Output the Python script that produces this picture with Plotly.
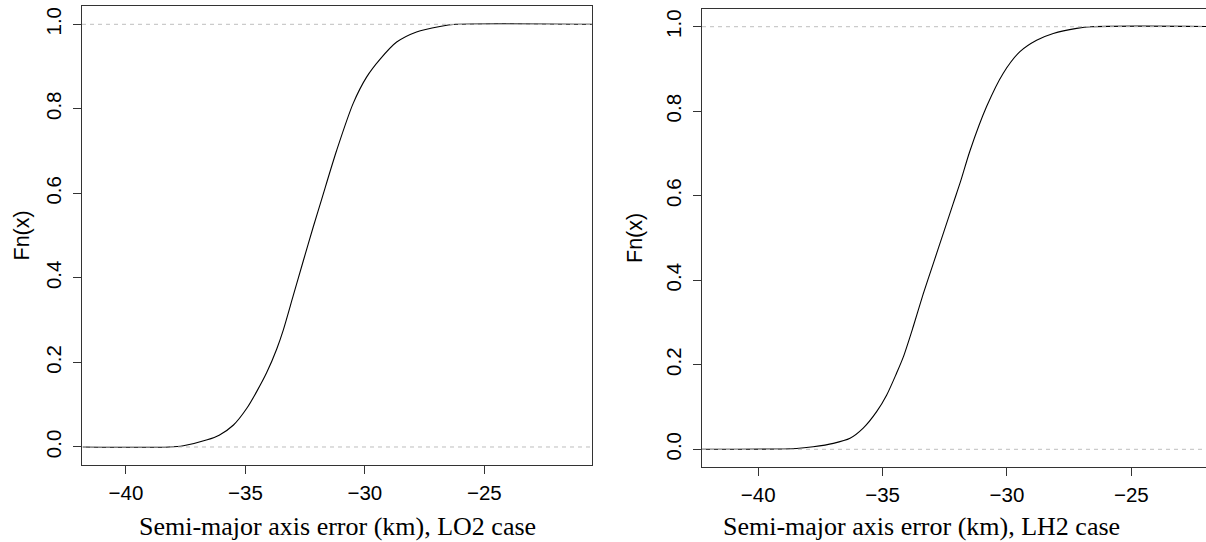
import plotly.graph_objects as go

# Left panel: LO2 case (ECDF)
lo2_x = [-41.8, -38.2, -37.6, -36.6, -36.1, -35.5, -34.95, -34.53, -34.11, -33.69,
         -33.42, -33.0, -32.58, -32.16, -31.81, -31.18, -30.49, -29.93,
         -29.37, -28.67, -27.84, -26.86, -26.2, -20.5]
lo2_f = [0.0, 0.0, 0.003, 0.017, 0.028, 0.052, 0.091, 0.131, 0.176, 0.232,
         0.276, 0.358, 0.44, 0.521, 0.586, 0.702, 0.813, 0.875,
         0.917, 0.958, 0.982, 0.995, 1.0, 1.0]

# Right panel: LH2 case
lh2_x = [-42.3, -38.46, -37.79, -36.98, -36.31, -35.78, -35.24, -34.84, -34.44,
         -34.17, -33.77, -33.37, -32.96, -32.56, -32.16, -31.86, -31.49, -30.82,
         -30.15, -29.48, -28.81, -28.14, -27.2, -26.6, -20.5]
lh2_f = [0.0, 0.002, 0.006, 0.014, 0.026, 0.05, 0.089, 0.128, 0.18,
         0.218, 0.29, 0.367, 0.44, 0.511, 0.582, 0.635, 0.706, 0.811,
         0.89, 0.941, 0.968, 0.984, 0.996, 1.0, 1.0]

x_ticks = [-40, -35, -30, -25]
y_ticks = [0.0, 0.2, 0.4, 0.6, 0.8, 1.0]
x_titles = ["Semi-major axis error (km), LO2 case", "Semi-major axis error (km), LH2 case"]
y_title = "Fn(x)"

W, H = 1206, 542
fig = go.Figure()
fig.add_trace(go.Scatter(x=lo2_x, y=lo2_f, mode="lines",
                         line=dict(color="black", width=1.1, shape="spline", smoothing=0.8),
                         xaxis="x", yaxis="y", showlegend=False, hoverinfo="skip"))
fig.add_trace(go.Scatter(x=lh2_x, y=lh2_f, mode="lines",
                         line=dict(color="black", width=1.1, shape="spline", smoothing=0.8),
                         xaxis="x2", yaxis="y2", showlegend=False, hoverinfo="skip"))

tickfont = dict(family="Liberation Sans, Arial, sans-serif", size=20.5, color="black")
common_x = dict(tickvals=x_ticks, ticks="outside", ticklen=8, tickcolor="#333", tickwidth=1,
                showline=True, linecolor="#333", linewidth=1, showgrid=False, zeroline=False,
                tickfont=tickfont, ticklabelstandoff=1)
common_y = dict(tickvals=y_ticks, tickformat=".1f", ticks="outside", ticklen=8, tickcolor="#333",
                tickwidth=1, showline=True, linecolor="#333", linewidth=1, showgrid=False,
                zeroline=False, tickfont=tickfont, tickangle=-90, ticklabelstandoff=4)

fig.update_layout(
    width=W, height=H, autosize=False,
    margin=dict(l=0, r=0, t=0, b=0),
    paper_bgcolor="white", plot_bgcolor="white",
    xaxis=dict(domain=[82 / W, 592 / W], range=[-41.841, -20.494], mirror=True, anchor="y", **common_x),
    yaxis=dict(domain=[1 - 465 / H, 1 - 6 / H], range=[-0.0426, 1.0433], mirror=True, anchor="x", **common_y),
    xaxis2=dict(domain=[702 / W, 1.0], range=[-42.26, -22.0], mirror=True, anchor="y2", **common_x),
    yaxis2=dict(domain=[1 - 467.3 / H, 1 - 9 / H], range=[-0.0426, 1.0419], mirror=False, anchor="x2", **common_y),
)

# reference dashed lines at 0 and 1 (drawn above the curves)
for xr, yr in (("x domain", "y"), ("x2 domain", "y2")):
    for lv in (0, 1):
        fig.add_shape(type="line", xref=xr, yref=yr, x0=0, x1=1, y0=lv, y1=lv,
                      line=dict(color="#bebebe", width=1, dash="4px,4px"), layer="above")

# axis titles
serif = dict(family="Liberation Serif, Times New Roman, serif", size=26, color="black")
fig.add_annotation(text=x_titles[0], xref="paper", yref="paper", x=337 / W, y=1 - 526 / H,
                   xanchor="center", yanchor="middle", showarrow=False, font=serif)
fig.add_annotation(text=x_titles[1], xref="paper", yref="paper", x=921.7 / W, y=1 - 526 / H,
                   xanchor="center", yanchor="middle", showarrow=False, font=serif)
sans = dict(family="Liberation Sans, Arial, sans-serif", size=21.5, color="black")
fig.add_annotation(text=y_title, xref="paper", yref="paper", x=22 / W, y=1 - 235.5 / H,
                   xanchor="center", yanchor="middle", textangle=-90, showarrow=False, font=sans)
fig.add_annotation(text=y_title, xref="paper", yref="paper", x=635 / W, y=1 - 238 / H,
                   xanchor="center", yanchor="middle", textangle=-90, showarrow=False, font=sans)

fig.write_html("out.html")
